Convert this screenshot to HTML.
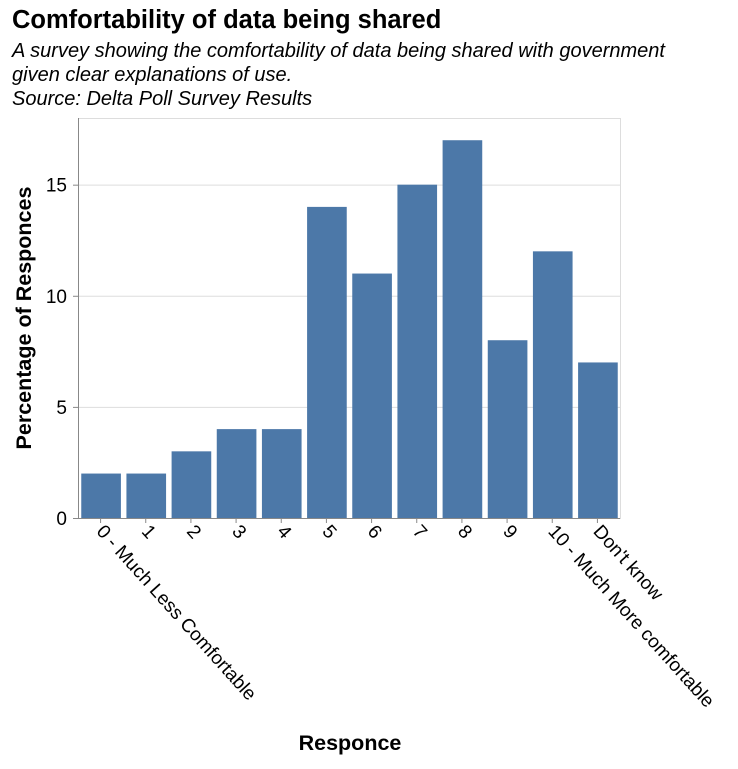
<!DOCTYPE html>
<html><head><meta charset="utf-8"><style>
body{margin:0;background:#fff;}
svg{font-family:"Liberation Sans",Arial,sans-serif;}
</style></head><body>
<svg id="chart" width="738" height="764">
<text x="12" y="28" font-size="25.5" font-weight="bold" fill="#000">Comfortability of data being shared</text>
<text x="12" y="57" font-size="20" font-style="italic" fill="#000">A survey showing the comfortability of data being shared with government</text>
<text x="12" y="81" font-size="20" font-style="italic" fill="#000">given clear explanations of use.</text>
<text x="12" y="105" font-size="20" font-style="italic" fill="#000">Source: Delta Poll Survey Results</text>
<g id="grid"></g>
<g id="bars"></g>
<g id="axes"></g>
<text transform="translate(31,318) rotate(-90)" text-anchor="middle" font-size="21.5" font-weight="bold">Percentage of Responces</text>
<text x="350" y="750" text-anchor="middle" font-size="21.5" font-weight="bold">Responce</text>
</svg>
<script>
const categories=["0 - Much Less Comfortable","1","2","3","4","5","6","7","8","9","10 - Much More comfortable","Don't know"];
const values=[2,2,3,4,4,14,11,15,17,8,12,7];
const yTicks=[0,5,10,15];
const yMax=18;
const L=78,R=620,T=118,B=518;
const NS="http://www.w3.org/2000/svg";
const band=(R-L)/categories.length;
const xs=i=>L+i*band;
const ys=v=>B-(v/yMax)*(B-T);
function mk(tag,attrs,parent,txt){const e=document.createElementNS(NS,tag);for(const k in attrs)e.setAttribute(k,attrs[k]);if(txt!==undefined)e.textContent=txt;parent.appendChild(e);return e;}
const grid=document.getElementById('grid'),bars=document.getElementById('bars'),axes=document.getElementById('axes');
mk('rect',{x:L+0.5,y:T+0.5,width:R-L,height:B-T,fill:'none',stroke:'#ddd'},grid);
yTicks.forEach(t=>{
  const y=ys(t)+0.5;
  const g=mk('line',{x1:L,x2:R,y1:y,y2:y,stroke:'#ddd'},grid);
  
  
  mk('line',{x1:L-5,x2:L,y1:y,y2:y,stroke:'#888'},axes);
  const lb=mk('text',{x:L-11,y:ys(t)+7,'text-anchor':'end','font-size':19},axes,String(t));
  
  
});
mk('line',{x1:L+0.5,x2:L+0.5,y1:T,y2:B,stroke:'#888'},axes);
mk('line',{x1:L,x2:R,y1:B+0.5,y2:B+0.5,stroke:'#888'},axes);
categories.forEach((c,i)=>{
  const pad=band*0.05;
  const r=mk('rect',{x:xs(i)+pad+1,y:ys(values[i]),width:band-2*pad-1,height:B-ys(values[i]),fill:'#4c78a8'},bars);
  
  
  const cx=xs(i)+band/2;
  mk('line',{x1:cx,x2:cx,y1:B,y2:B+5,stroke:'#888'},axes);
  const t=mk('text',{transform:`translate(${cx-5},${B+14}) rotate(48)`,'font-size':19},axes,c);
  
  
});
</script>
</body></html>
